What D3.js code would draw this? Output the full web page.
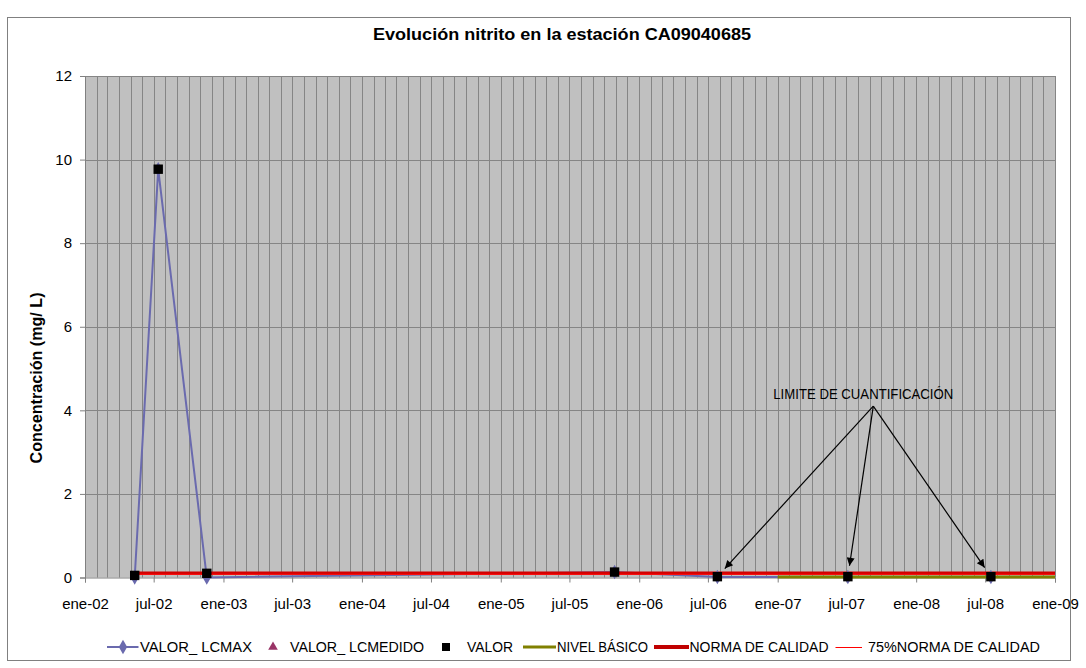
<!DOCTYPE html>
<html><head><meta charset="utf-8">
<script src="https://cdn.jsdelivr.net/npm/d3@7"></script>
<style>body{margin:0;background:#fff}</style>
</head><body><svg id="c" width="1086" height="668"></svg>
<script>
// ---- data ----
const valorDates = ["2002-05-12","2002-07-13","2002-11-18","2005-10-28","2006-07-26","2007-07-05","2008-07-16"];
const valorValues = [0.05, 9.77, 0.1, 0.13, 0.02, 0.02, 0.02];
const lcmaxValues = [0, 9.77, 0, 0.13, 0.01, 0.01, 0.01];
const nivelBasicoDates = ["2007-01-01","2009-01-01"];
const nivelBasicoValues = [0.01, 0.01];
const normaDates = ["2002-05-12","2009-01-01"];
const normaValues = [0.1, 0.1];
const norma75Values = [0.075, 0.075];
const xTickDates = ["2002-01-01","2002-07-01","2003-01-01","2003-07-01","2004-01-01","2004-07-01","2005-01-01","2005-07-01","2006-01-01","2006-07-01","2007-01-01","2007-07-01","2008-01-01","2008-07-01","2009-01-01"];
const xTickLabels = ["ene-02","jul-02","ene-03","jul-03","ene-04","jul-04","ene-05","jul-05","ene-06","jul-06","ene-07","jul-07","ene-08","jul-08","ene-09"];
const yTicks = [0,2,4,6,8,10,12];
const annotationText = "LIMITE DE CUANTIFICACIÓN";
const annotationAnchor = {date:"2007-09-10", value:4.1};
const annotatedIdx = [4,5,6];
const legendLabels = ["VALOR_ LCMAX","VALOR_ LCMEDIDO","VALOR","NIVEL BÁSICO","NORMA DE CALIDAD","75%NORMA DE CALIDAD"];

const P = d3.timeParse("%Y-%m-%d");
const svg = d3.select("#c");
const FONT = "'Liberation Sans', Arial, sans-serif";
const L = 85, R = 1055, T = 76, B = 577.5;
const x = d3.scaleTime().domain([P(xTickDates[0]), P(xTickDates[xTickDates.length-1])]).range([L, R]);
const y = d3.scaleLinear().domain([0, 12]).range([B, T]);

// chart border
svg.append("rect").attr("x",7.5).attr("y",17.5).attr("width",1063).attr("height",643)
  .attr("fill","#fff").attr("stroke","#808080").attr("stroke-width",1);

// plot background
svg.append("rect").attr("x",L).attr("y",T).attr("width",R-L).attr("height",B-T).attr("fill","#c0c0c0");

// vertical monthly gridlines
const months = d3.timeMonth.range(x.domain()[0], d3.timeDay.offset(x.domain()[1],1));
svg.append("g").selectAll("line").data(months).join("line")
  .attr("x1",d=>Math.round(x(d))+0.5).attr("x2",d=>Math.round(x(d))+0.5)
  .attr("y1",T).attr("y2",B).attr("stroke","#858585").attr("stroke-width",1);
// horizontal gridlines
svg.append("g").selectAll("line").data(yTicks.filter(v=>v>0)).join("line")
  .attr("x1",L).attr("x2",R).attr("y1",d=>Math.round(y(d))+0.5).attr("y2",d=>Math.round(y(d))+0.5)
  .attr("stroke","#858585").attr("stroke-width",1);

// axes
const gy = svg.append("g").attr("transform",`translate(${L},0)`)
  .call(d3.axisLeft(y).tickValues(yTicks).tickSize(5).tickPadding(8).tickFormat(d3.format("d")));
gy.select(".domain").attr("stroke","#808080");
gy.selectAll(".tick line").attr("stroke","#808080");
gy.selectAll("text").attr("font-family",FONT).attr("font-size",15).attr("fill","#000");

const gx = svg.append("g").attr("transform",`translate(0,${B})`)
  .call(d3.axisBottom(x).tickValues(xTickDates.map(P)).tickSize(5).tickPadding(16)
    .tickFormat((d,i)=>xTickLabels[i]));
gx.select(".domain").attr("stroke","#808080");
gx.selectAll(".tick line").attr("stroke","#808080");
gx.selectAll("text").attr("font-family",FONT).attr("font-size",15).attr("fill","#000");

// series lines
const line = d3.line().x(d=>x(d[0])).y(d=>y(d[1]));
const lcmax = valorDates.map((d,i)=>[P(d), lcmaxValues[i]]);
const valor = valorDates.map((d,i)=>[P(d), valorValues[i]]);
svg.append("path").datum(lcmax).attr("d",line).attr("fill","none").attr("stroke","#6a6aae").attr("stroke-width",2);
svg.append("path").datum(nivelBasicoDates.map((d,i)=>[P(d), nivelBasicoValues[i]])).attr("d",line)
  .attr("fill","none").attr("stroke","#808000").attr("stroke-width",3);
svg.append("path").datum(normaDates.map((d,i)=>[P(d), normaValues[i]])).attr("d",line)
  .attr("fill","none").attr("stroke","#d20000").attr("stroke-width",3.5);
svg.append("path").datum(normaDates.map((d,i)=>[P(d), norma75Values[i]])).attr("d",line)
  .attr("fill","none").attr("stroke","#ff1010").attr("stroke-width",1);

// diamonds (lcmax)
const diamond = d3.symbol().type(d3.symbolDiamond).size(60);
svg.append("g").selectAll("path").data(lcmax).join("path")
  .attr("d",diamond).attr("transform",d=>`translate(${x(d[0])},${y(d[1])})`).attr("fill","#6a6aae");
// squares (valor)
svg.append("g").selectAll("rect").data(valor).join("rect")
  .attr("x",d=>x(d[0])-4.7).attr("y",d=>y(d[1])-4.7).attr("width",9.4).attr("height",9.4).attr("fill","#000");

// title
svg.append("text").attr("x",562).attr("y",40).attr("text-anchor","middle")
  .attr("font-family",FONT).attr("font-size",16).attr("font-weight","bold")
  .attr("textLength",378).attr("lengthAdjust","spacingAndGlyphs")
  .text("Evolución nitrito en la estación CA09040685");

// y axis label
svg.append("text").attr("transform","translate(42,378) rotate(-90)").attr("text-anchor","middle")
  .attr("font-family",FONT).attr("font-size",16).attr("font-weight","bold")
  .attr("textLength",171).attr("lengthAdjust","spacingAndGlyphs")
  .text("Concentración (mg/ L)");

// annotation
const defs = svg.append("defs");
defs.append("marker").attr("id","ah").attr("viewBox","0 0 10 10").attr("refX",10).attr("refY",5)
  .attr("markerWidth",11).attr("markerHeight",8).attr("markerUnits","userSpaceOnUse").attr("orient","auto")
  .append("path").attr("d","M0,0 L10,5 L0,10 z").attr("fill","#000");
const ax = x(P(annotationAnchor.date)), ay = y(annotationAnchor.value);
svg.append("text").attr("x",ax-10).attr("y",ay-7).attr("text-anchor","middle")
  .attr("font-family",FONT).attr("font-size",14)
  .attr("textLength",180).attr("lengthAdjust","spacingAndGlyphs").text(annotationText);
svg.append("g").selectAll("line").data(annotatedIdx.map(i=>valor[i])).join("line")
  .attr("x1",ax).attr("y1",ay)
  .attr("x2",d=>{const dx=x(d[0])-ax, dy=y(d[1])-ay, n=Math.hypot(dx,dy); return x(d[0])-dx/n*11;})
  .attr("y2",d=>{const dx=x(d[0])-ax, dy=y(d[1])-ay, n=Math.hypot(dx,dy); return y(d[1])-dy/n*11;})
  .attr("stroke","#000").attr("stroke-width",1.2).attr("marker-end","url(#ah)");

// legend
const ly = 647;
const lg = svg.append("g");
const textStyle = s => s.attr("font-family",FONT).attr("font-size",14).attr("lengthAdjust","spacingAndGlyphs");
// 1
lg.append("line").attr("x1",107).attr("x2",138.5).attr("y1",ly).attr("y2",ly).attr("stroke","#6a6aae").attr("stroke-width",2);
lg.append("path").attr("d",diamond).attr("transform",`translate(123,${ly})`).attr("fill","#6a6aae");
lg.append("text").attr("x",140).attr("y",ly+5).attr("textLength",112).call(textStyle).text(legendLabels[0]);
// 2
lg.append("path").attr("d",d3.symbol().type(d3.symbolTriangle).size(40)).attr("transform",`translate(273,${ly})`).attr("fill","#993366");
lg.append("text").attr("x",290).attr("y",ly+5).attr("textLength",134).call(textStyle).text(legendLabels[1]);
// 3
lg.append("rect").attr("x",442).attr("y",ly-4).attr("width",8).attr("height",8).attr("fill","#000");
lg.append("text").attr("x",467).attr("y",ly+5).attr("textLength",46).call(textStyle).text(legendLabels[2]);
// 4
lg.append("line").attr("x1",523).attr("x2",556).attr("y1",ly).attr("y2",ly).attr("stroke","#808000").attr("stroke-width",3);
lg.append("text").attr("x",557).attr("y",ly+5).attr("textLength",91).call(textStyle).text(legendLabels[3]);
// 5
lg.append("line").attr("x1",654).attr("x2",689).attr("y1",ly).attr("y2",ly).attr("stroke","#c00000").attr("stroke-width",4);
lg.append("text").attr("x",689.5).attr("y",ly+5).attr("textLength",139).call(textStyle).text(legendLabels[4]);
// 6
lg.append("line").attr("x1",835.5).attr("x2",862).attr("y1",ly+0.5).attr("y2",ly+0.5).attr("stroke","#ff0000").attr("stroke-width",1);
lg.append("text").attr("x",868).attr("y",ly+5).attr("textLength",172).call(textStyle).text(legendLabels[5]);
</script></body></html>
